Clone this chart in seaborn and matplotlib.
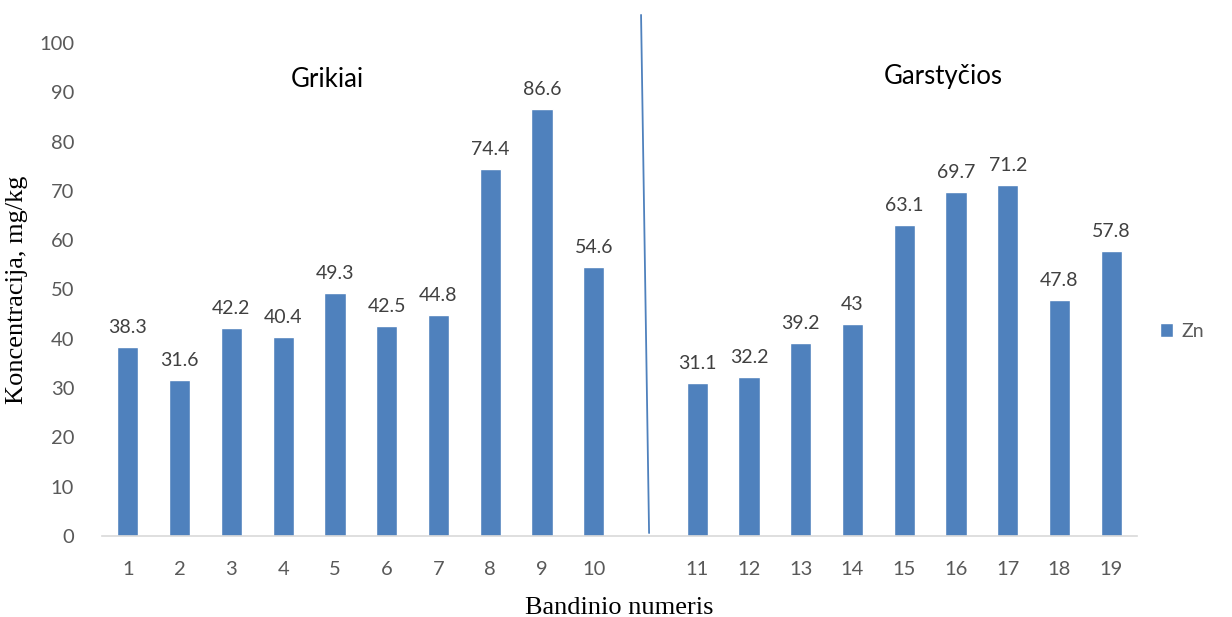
import matplotlib
matplotlib.use("Agg")
import matplotlib.pyplot as plt
import seaborn as sns
import pandas as pd

sns.set_style("white")
plt.rcParams['font.family'] = ['Lato', 'DejaVu Sans']

# Data
samples = ['1', '2', '3', '4', '5', '6', '7', '8', '9', '10',
           '11', '12', '13', '14', '15', '16', '17', '18', '19']
zn = [38.3, 31.6, 42.2, 40.4, 49.3, 42.5, 44.8, 74.4, 86.6, 54.6,
      31.1, 32.2, 39.2, 43, 63.1, 69.7, 71.2, 47.8, 57.8]
value_labels = ['38.3', '31.6', '42.2', '40.4', '49.3', '42.5', '44.8', '74.4', '86.6', '54.6',
                '31.1', '32.2', '39.2', '43', '63.1', '69.7', '71.2', '47.8', '57.8']
# empty slot between the two groups
order = samples[:10] + [' '] + samples[10:]
groups = ['Grikiai', 'Garstyčios']

df = pd.DataFrame({'Sample': samples, 'Zn': zn, 'Series': 'Zn'})

fig = plt.figure(figsize=(12.32, 6.17), dpi=100)
ax = fig.add_axes([0.0828, 0.1313, 0.8402, 0.7990])

sns.barplot(data=df, x='Sample', y='Zn', hue='Series', order=order,
            palette=['#4F81BD'], saturation=1, width=0.41, ax=ax)

# value labels
for container in ax.containers:
    ax.bar_label(container, labels=value_labels, padding=8,
                 fontsize=14, color='#404040')

ax.set_xlim(-0.5, len(order) - 0.5)
ax.set_ylim(0, 100)
ax.set_yticks(range(0, 101, 10))
ax.tick_params(axis='both', labelsize=14.5, colors='#595959', length=0)
ax.tick_params(axis='x', pad=18)
ax.tick_params(axis='y', pad=20)

for side in ['top', 'right', 'left']:
    ax.spines[side].set_visible(False)
ax.spines['bottom'].set_color('#D9D9D9')
ax.spines['bottom'].set_linewidth(1.2)

ax.set_xlabel('Bandinio numeris', family='Liberation Serif', fontsize=19,
              color='black', labelpad=14)
ax.set_ylabel('Koncentracija, mg/kg', family='Liberation Serif', fontsize=19,
              color='black', labelpad=8)

# group divider and group names
gap = order.index(' ')
ax.plot([gap - 0.085, gap + 0.07], [105.7, 0.6], color='#4F81BD',
        linewidth=1.3, clip_on=False)
ax.text(3.85, 92.5, groups[0], ha='center', va='center', fontsize=18.5, color='black')
ax.text(15.75, 93.3, groups[1], ha='center', va='center', fontsize=18.5, color='black')

# legend on the right
ax.legend(loc='center left', bbox_to_anchor=(1.005, 0.415), frameon=False,
          fontsize=14, labelcolor='#595959', handlelength=0.7, handleheight=0.7,
          handletextpad=0.4)

fig.savefig('out.png', dpi=100)
